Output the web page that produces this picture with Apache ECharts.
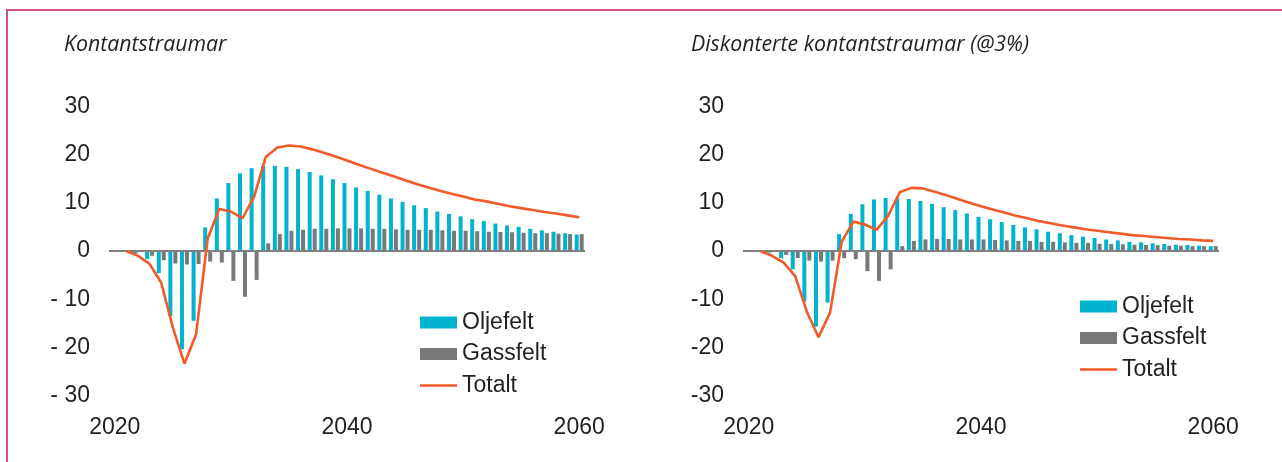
<!DOCTYPE html>
<html>
<head>
<meta charset="utf-8">
<title>Kontantstraumar</title>
<script src="https://cdn.jsdelivr.net/npm/echarts@6/dist/echarts.min.js"></script>
<style>
  html, body { margin: 0; padding: 0; background: #fff; }
  #chart { width: 1282px; height: 462px; }
</style>
</head>
<body>
<div id="chart"></div>
<script>
// years on the category axis (2020 has no data)
var years = ['2020', '2021', '2022', '2023', '2024', '2025', '2026', '2027', '2028', '2029',
  '2030', '2031', '2032', '2033', '2034', '2035', '2036', '2037', '2038', '2039',
  '2040', '2041', '2042', '2043', '2044', '2045', '2046', '2047', '2048', '2049',
  '2050', '2051', '2052', '2053', '2054', '2055', '2056', '2057', '2058', '2059', '2060']

// Kontantstraumar
var oilCash = [null, 0, -0.5, -1.7, -4.6, -13.5, -20.4, -14.5, 4.9, 10.9,
  14.1, 16.1, 17.2, 17.7, 17.7, 17.5, 17.0, 16.4, 15.7, 14.9,
  14.1, 13.2, 12.5, 11.7, 10.9, 10.2, 9.5, 8.9, 8.2, 7.7,
  7.2, 6.6, 6.2, 5.7, 5.3, 5.0, 4.6, 4.3, 4.0, 3.7, 3.4]
var gasCash = [null, 0, -0.2, -1.0, -1.9, -2.6, -2.8, -2.7, -2.2, -2.4,
  -6.2, -9.5, -6.0, 1.6, 3.5, 4.2, 4.4, 4.6, 4.6, 4.7,
  4.7, 4.7, 4.6, 4.6, 4.5, 4.4, 4.4, 4.4, 4.3, 4.2,
  4.2, 4.1, 4.0, 3.95, 3.9, 3.8, 3.7, 3.7, 3.6, 3.5, 3.5]
var totalCash = [null, 0, -1.0, -2.7, -6.6, -15.9, -23.4, -17.3, 2.6, 8.7,
  8.2, 6.8, 11.3, 19.5, 21.5, 21.9, 21.7, 21.1, 20.4, 19.6,
  18.8, 17.9, 17.1, 16.3, 15.5, 14.7, 13.9, 13.2, 12.5, 11.9,
  11.3, 10.7, 10.3, 9.8, 9.3, 8.9, 8.5, 8.1, 7.8, 7.4, 7.0]

// Diskonterte kontantstraumar (@3%)
var oilDisc = [null, 0, -0.35, -1.5, -3.8, -10.5, -15.7, -10.7, 3.5, 7.7,
  9.7, 10.7, 11.0, 11.1, 10.8, 10.4, 9.8, 9.1, 8.5, 7.8,
  7.1, 6.6, 6.0, 5.4, 4.9, 4.5, 4.0, 3.7, 3.3, 3.0,
  2.7, 2.4, 2.2, 1.9, 1.8, 1.6, 1.45, 1.3, 1.25, 1.1, 1.0]
var gasDisc = [null, 0, -0.2, -0.8, -1.45, -2.0, -2.2, -2.0, -1.5, -1.7,
  -4.2, -6.2, -3.8, 1.0, 2.1, 2.4, 2.5, 2.5, 2.4, 2.4,
  2.4, 2.3, 2.2, 2.1, 2.1, 1.9, 1.9, 1.8, 1.7, 1.7,
  1.5, 1.45, 1.4, 1.3, 1.25, 1.2, 1.1, 1.1, 1.0, 1.0, 1.0]
var totalDisc = [null, 0, -1.0, -2.4, -5.2, -12.6, -17.9, -12.8, 1.9, 6.1,
  5.5, 4.4, 7.3, 12.2, 13.1, 13.0, 12.3, 11.6, 10.8, 10.0,
  9.3, 8.6, 8.0, 7.3, 6.8, 6.2, 5.75, 5.3, 4.9, 4.5,
  4.2, 3.9, 3.6, 3.3, 3.1, 2.9, 2.7, 2.5, 2.4, 2.2, 2.1]

var yTicks = { min: -30, max: 30, interval: 10 }
var titles = ['Kontantstraumar', 'Diskonterte kontantstraumar (@3%)']
var names = ['Oljefelt', 'Gassfelt', 'Totalt']

var OIL = '#00b3cf'
var GAS = '#78787a'
var TOTAL = '#f15a29'
var TEXT = '#231f20'
var FONT = '"Liberation Sans", Arial, sans-serif'

var chart = echarts.init(document.getElementById('chart'), null, { renderer: 'canvas' })

function xAxisFor(gridIndex) {
  return {
    type: 'category',
    gridIndex: gridIndex,
    data: years,
    boundaryGap: true,
    axisLine: { show: false },
    axisTick: { show: false },
    axisLabel: { interval: 19, color: TEXT, fontSize: 23, fontFamily: FONT, margin: 21 }
  }
}

function yAxisFor(gridIndex, spaced) {
  return {
    type: 'value',
    gridIndex: gridIndex,
    min: yTicks.min,
    max: yTicks.max,
    interval: yTicks.interval,
    splitLine: { show: false },
    axisLine: { show: false },
    axisTick: { show: false },
    axisLabel: {
      color: TEXT,
      fontSize: 23,
      fontFamily: FONT,
      margin: 19,
      formatter: function (v) {
        if (v < 0 && spaced) return '- ' + Math.abs(v)
        return String(v)
      }
    }
  }
}

function seriesFor(idx, oil, gas, total) {
  return [{
    name: names[0],
    type: 'bar',
    xAxisIndex: idx,
    yAxisIndex: idx,
    data: oil,
    barWidth: 4,
    barGap: '25%',
    itemStyle: { color: OIL },
    markLine: {
      silent: true,
      symbol: ['none', 'none'],
      label: { show: false },
      lineStyle: { color: '#808080', width: 2, type: 'solid' },
      data: [{ yAxis: 0 }]
    }
  }, {
    name: names[1],
    type: 'bar',
    xAxisIndex: idx,
    yAxisIndex: idx,
    data: gas,
    barWidth: 4,
    barGap: '25%',
    itemStyle: { color: GAS }
  }, {
    name: names[2],
    type: 'line',
    xAxisIndex: idx,
    yAxisIndex: idx,
    data: total,
    symbol: 'none',
    lineStyle: { color: TOTAL, width: 2.6 },
    itemStyle: { color: TOTAL },
    z: 5
  }]
}

function legendFor(left, top) {
  return {
    orient: 'vertical',
    left: left,
    top: top,
    padding: 0,
    itemWidth: 37,
    itemHeight: 12,
    itemGap: 8.5,
    textStyle: { color: TEXT, fontSize: 23, fontFamily: FONT },
    data: [
      { name: names[0], icon: 'rect' },
      { name: names[1], icon: 'rect' },
      // plain stroke, no marker, like the original key
      { name: names[2], icon: 'path://M0,0H37V2.6H0Z' }
    ]
  }
}

var titleStyle = { color: TEXT, fontSize: 21.3, fontStyle: 'italic', fontWeight: 'normal', fontFamily: '"Open Sans", sans-serif' }

chart.setOption({
  animation: false,
  title: [
    { text: titles[0], left: 64, top: 34, padding: 0, textStyle: titleStyle },
    { text: titles[1], left: 691, top: 34, padding: 0, textStyle: titleStyle }
  ],
  graphic: [{
    type: 'rect',
    shape: { x: 7, y: 10, width: 1400, height: 600 },
    style: { fill: 'none', stroke: '#d2508f', lineWidth: 2 },
    silent: true
  }],
  legend: [legendFor(420, 311), legendFor(1080, 295)],
  grid: [
    { left: 109, top: 106.5, width: 476, height: 289 },
    { left: 743, top: 106.5, width: 476, height: 289 }
  ],
  xAxis: [xAxisFor(0), xAxisFor(1)],
  yAxis: [yAxisFor(0, true), yAxisFor(1, false)],
  series: seriesFor(0, oilCash, gasCash, totalCash).concat(seriesFor(1, oilDisc, gasDisc, totalDisc))
})
</script>
</body>
</html>
